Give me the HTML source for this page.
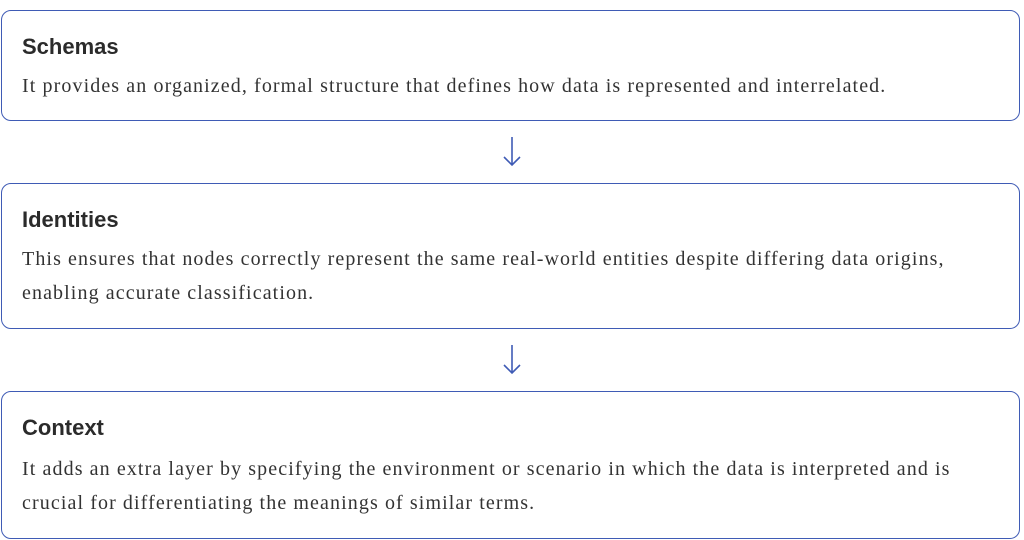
<!DOCTYPE html>
<html><head><style>
body{margin:0;width:1024px;height:540px;background:#fff;position:relative;overflow:hidden}
.box{position:absolute;left:1px;width:1019px;border:1.5px solid #3f5bb5;border-radius:10px;box-sizing:border-box;background:#fff}
.t{position:absolute;left:20px;font:600 22px "Liberation Sans",sans-serif;color:#2b2b2b}
.b{position:absolute;left:20px;right:14px;font:20px/34px "Liberation Serif",serif;letter-spacing:1.1px;color:#333}
svg{position:absolute}
</style></head><body>
<div class="box" style="top:10px;height:111px">
 <div class="t" style="top:23px">Schemas</div>
 <div class="b" style="top:58px">It provides an organized, formal structure that defines how data is represented and interrelated.</div>
</div>
<svg style="left:500px;top:136px" width="24" height="32"><path d="M12 1V29M4 21L12 29L20 21" stroke="#3f5bb5" stroke-width="1.6" fill="none"/></svg>
<div class="box" style="top:183px;height:146px">
 <div class="t" style="top:23px">Identities</div>
 <div class="b" style="top:58px">This ensures that nodes correctly represent the same real-world entities despite differing data origins, enabling accurate classification.</div>
</div>
<svg style="left:500px;top:344px" width="24" height="32"><path d="M12 1V29M4 21L12 29L20 21" stroke="#3f5bb5" stroke-width="1.6" fill="none"/></svg>
<div class="box" style="top:391px;height:148px">
 <div class="t" style="top:23px">Context</div>
 <div class="b" style="top:60px">It adds an extra layer by specifying the environment or scenario in which the data is interpreted and is crucial for differentiating the meanings of similar terms.</div>
</div>
</body></html>
